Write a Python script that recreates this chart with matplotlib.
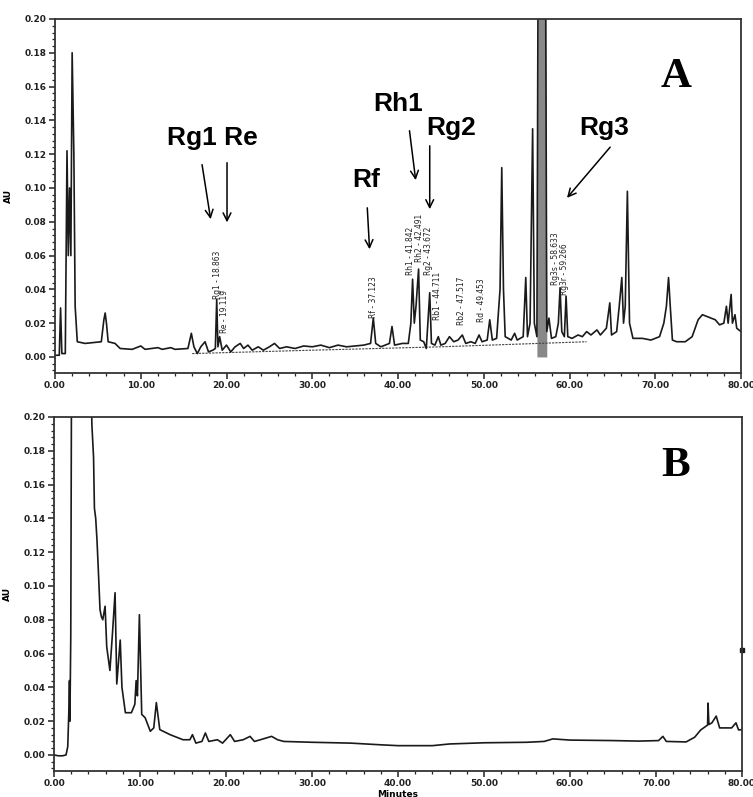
import matplotlib
matplotlib.use("Agg")
import matplotlib.pyplot as plt
from matplotlib.ticker import MultipleLocator, FormatStrFormatter

# ---- panel A: sample chromatogram (time in min, absorbance in AU)
a_time = [0.0, 0.5, 0.65, 0.8, 1.2, 1.4, 1.55, 1.7, 1.85, 2.0, 2.2, 2.35, 2.6, 3.5, 4.5,
          5.4, 5.7, 5.85, 6.0, 6.2, 7.0, 7.6, 9.0, 10.0, 10.5, 12.0, 12.5, 13.5, 14.0,
          15.5, 15.9, 16.2, 16.6, 17.0, 17.5, 17.9, 18.4, 18.7, 18.86, 19.0, 19.2, 19.5,
          20.0, 20.5, 21.0, 21.6, 22.0, 22.5, 23.0, 23.7, 24.3, 25.0, 25.6, 26.2, 27.0,
          28.0, 29.0, 30.0, 31.0, 32.0, 33.0, 34.0, 35.0, 36.0, 36.8, 37.12, 37.4, 38.0,
          39.0, 39.3, 39.6, 40.5, 41.2, 41.5, 41.7, 41.9, 42.1, 42.4, 42.6, 43.0, 43.3,
          43.7, 43.9, 44.3, 44.7, 45.0, 45.5, 46.0, 46.5, 47.0, 47.5, 47.9, 48.5, 49.0,
          49.45, 49.8, 50.4, 50.7, 51.0, 51.5, 51.9, 52.1, 52.3, 52.5, 53.2, 53.6, 53.9,
          54.6, 54.9, 55.1, 55.4, 55.7, 55.9, 56.2, 56.35, 57.2, 57.35, 57.6, 57.9, 58.4,
          58.7, 58.9, 59.1, 59.4, 59.6, 59.8, 60.3, 61.0, 61.5, 62.0, 62.5, 63.2, 63.6,
          64.3, 64.7, 64.9, 65.5, 65.8, 66.1, 66.3, 66.5, 66.75, 67.0, 67.4, 68.5, 69.5,
          70.5, 71.0, 71.3, 71.55, 71.75, 72.0, 72.5, 73.5, 74.3, 75.0, 75.5, 76.0, 76.5,
          77.0, 77.5, 78.0, 78.3, 78.5, 78.85, 79.0, 79.3, 79.5, 80.0]
a_au = [0.001, 0.001, 0.029, 0.002, 0.002, 0.122, 0.06, 0.10, 0.06, 0.18, 0.12, 0.03, 0.009,
        0.008, 0.0085, 0.009, 0.022, 0.026, 0.02, 0.009, 0.008, 0.005, 0.0045, 0.0065,
        0.0045, 0.0055, 0.0045, 0.0055, 0.0045, 0.005, 0.014, 0.006, 0.002, 0.006, 0.009,
        0.003, 0.004, 0.005, 0.034, 0.006, 0.012, 0.004, 0.007, 0.003, 0.006, 0.008, 0.005,
        0.007, 0.004, 0.006, 0.004, 0.006, 0.008, 0.005, 0.006, 0.005, 0.0065, 0.006,
        0.007, 0.0055, 0.007, 0.006, 0.0065, 0.007, 0.008, 0.023, 0.008, 0.006, 0.008,
        0.018, 0.007, 0.008, 0.008, 0.02, 0.046, 0.02, 0.03, 0.052, 0.01, 0.009, 0.005,
        0.038, 0.008, 0.007, 0.012, 0.007, 0.008, 0.012, 0.009, 0.010, 0.013, 0.008, 0.009,
        0.008, 0.013, 0.009, 0.010, 0.022, 0.010, 0.011, 0.04, 0.112, 0.04, 0.012, 0.010,
        0.014, 0.010, 0.012, 0.047, 0.012, 0.02, 0.135, 0.02, 0.012, 0.25, 0.25, 0.015,
        0.023, 0.011, 0.012, 0.02, 0.041, 0.015, 0.012, 0.036, 0.012, 0.011, 0.013, 0.012,
        0.015, 0.013, 0.016, 0.013, 0.017, 0.032, 0.013, 0.015, 0.03, 0.047, 0.02, 0.03,
        0.098, 0.02, 0.011, 0.011, 0.010, 0.012, 0.02, 0.03, 0.047, 0.03, 0.01, 0.009,
        0.009, 0.012, 0.022, 0.025, 0.024, 0.023, 0.022, 0.019, 0.02, 0.030, 0.02, 0.037,
        0.02, 0.025, 0.017, 0.015]

# integration baseline drawn under the trace
a_base_time = [16.0, 30.0, 45.0, 62.0]
a_base_au = [0.002, 0.004, 0.006, 0.009]

# retention-time labels on panel A
peak_names = ["Rg1", "Re", "Rf", "Rh1", "Rh2", "Rg2", "Rb1", "Rb2", "Rd", "Rg3s", "Rg3r"]
peak_rt = ["18.863", "19.119", "37.123", "41.842", "42.491", "43.672", "44.711",
           "47.517", "49.453", "58.633", "59.266"]
label_x = [18.9, 19.8, 37.1, 41.45, 42.5, 43.55, 44.66, 47.35, 49.7, 58.4, 59.4]
label_y = [0.034, 0.0142, 0.023, 0.0485, 0.056, 0.0485, 0.022, 0.019, 0.0207, 0.0426, 0.0367]

# ---- panel B: blank chromatogram
b_time = [0.0, 0.5, 1.0, 1.4, 1.6, 1.75, 1.8, 1.85, 1.95, 2.05, 4.3, 4.4, 4.6, 4.7, 4.85,
          5.0, 5.15, 5.35, 5.5, 5.67, 5.94, 6.13, 6.5, 6.8, 7.1, 7.3, 7.7, 7.9, 8.3, 9.0,
          9.4, 9.55, 9.7, 9.93, 10.2, 10.6, 11.2, 11.6, 11.9, 12.3, 13.5, 15.0, 15.8, 16.1,
          16.5, 17.2, 17.6, 18.0, 19.0, 19.6, 20.5, 21.0, 22.0, 22.8, 23.3, 24.0, 25.3,
          26.0, 26.7, 30.0, 34.5, 38.0, 40.0, 44.0, 46.0, 50.0, 55.0, 57.0, 58.0, 60.0,
          65.0, 68.0, 70.3, 70.8, 71.2, 73.5, 74.5, 75.2, 76.0, 76.05, 76.15, 76.5, 77.0,
          77.4, 78.8, 79.3, 79.6, 80.0]
b_au = [0.0, -0.0005, -0.0005, 0.0, 0.005, 0.03, 0.044, 0.02, 0.07, 0.25, 0.25, 0.196,
        0.176, 0.146, 0.14, 0.127, 0.11, 0.086, 0.082, 0.08, 0.088, 0.064, 0.05, 0.072,
        0.096, 0.042, 0.068, 0.040, 0.025, 0.025, 0.03, 0.044, 0.035, 0.083, 0.024, 0.022,
        0.014, 0.016, 0.031, 0.015, 0.012, 0.009, 0.009, 0.012, 0.007, 0.008, 0.013, 0.008,
        0.009, 0.007, 0.012, 0.008, 0.009, 0.011, 0.008, 0.009, 0.011, 0.009, 0.008,
        0.0075, 0.007, 0.006, 0.0055, 0.0055, 0.0065, 0.0072, 0.0075, 0.008, 0.0095,
        0.0088, 0.0085, 0.0082, 0.0085, 0.011, 0.008, 0.0077, 0.0105, 0.0148, 0.0177,
        0.0307, 0.018, 0.019, 0.023, 0.016, 0.016, 0.019, 0.0148, 0.015]
b_end_marker = (80.0, 0.062)

xticks = [0, 10, 20, 30, 40, 50, 60, 70, 80]
yticks = [0.00, 0.02, 0.04, 0.06, 0.08, 0.10, 0.12, 0.14, 0.16, 0.18, 0.20]

W, H = 753, 797
fig = plt.figure(figsize=(W / 100, H / 100), dpi=100)


def px_axes(left, top, right, bottom):
    return fig.add_axes([left / W, 1 - bottom / H, (right - left) / W, (bottom - top) / H])


def style(ax):
    ax.set_xlim(0, 80)
    ax.set_ylim(-0.0095, 0.20)
    ax.set_xticks(xticks)
    ax.set_yticks(yticks)
    ax.xaxis.set_minor_locator(MultipleLocator(2))
    ax.yaxis.set_minor_locator(MultipleLocator(0.004))
    ax.xaxis.set_major_formatter(FormatStrFormatter("%.2f"))
    ax.yaxis.set_major_formatter(FormatStrFormatter("%.2f"))
    ax.tick_params(which="major", direction="out", length=4, width=1.1, labelsize=6.5,
                   pad=2, colors="#222222")
    ax.tick_params(which="minor", direction="out", length=2, width=0.9, colors="#222222")
    for lab in ax.get_xticklabels() + ax.get_yticklabels():
        lab.set_fontweight("bold")
    for sp in ax.spines.values():
        sp.set_linewidth(1.3)
        sp.set_color("#333333")
    ax.set_ylabel("AU", fontsize=6.5, fontweight="bold", labelpad=8)


line_kw = dict(color="#1a1a1a", lw=1.2)

# ---- panel A
axA = px_axes(55, 19, 741, 373)
style(axA)
axA.plot(a_base_time, a_base_au, color="#444444", lw=0.8, ls=(0, (2, 1)))
axA.fill_between(a_time, 0.0, a_au, where=[56.2 <= t <= 57.35 for t in a_time],
                 color="#888888", lw=0)
axA.plot(a_time, a_au, **line_kw)

for name, rt, x, y in zip(peak_names, peak_rt, label_x, label_y):
    axA.text(x, y, f"{name} - {rt}", rotation=90, ha="center", va="bottom",
             fontsize=6, fontstretch="condensed", color="#222222")

ann_font = dict(fontsize=19, fontweight="bold", family="Liberation Sans", ha="center",
                va="center")
arrow = dict(arrowstyle="->", lw=1.1, color="black", mutation_scale=14)
axA.text(18.4, 0.1296, "Rg1 Re", **ann_font)
axA.annotate("", xy=(18.2, 0.0799), xytext=(17.1, 0.1154), arrowprops=arrow)
axA.annotate("", xy=(20.06, 0.078), xytext=(20.06, 0.1166), arrowprops=arrow)
axA.text(36.3, 0.1047, "Rf", **ann_font)
axA.annotate("", xy=(36.7, 0.0621), xytext=(36.4, 0.0899), arrowprops=arrow)
axA.text(40.0, 0.1497, "Rh1", **ann_font)
axA.annotate("", xy=(42.1, 0.103), xytext=(41.3, 0.1355), arrowprops=arrow)
axA.text(46.2, 0.1355, "Rg2", **ann_font)
axA.annotate("", xy=(43.7, 0.0858), xytext=(43.7, 0.1266), arrowprops=arrow)
axA.text(64.1, 0.1355, "Rg3", **ann_font)
axA.annotate("", xy=(59.5, 0.0929), xytext=(64.95, 0.1254), arrowprops=arrow)

axA.text(0.905, 0.835, "A", transform=axA.transAxes, fontsize=31, fontweight="bold",
         family="Liberation Serif", ha="center", va="center")

# ---- panel B
axB = px_axes(54, 417, 742, 771)
style(axB)
axB.plot(b_time, b_au, **line_kw)
axB.plot([b_end_marker[0]], [b_end_marker[1]], marker="s", ms=2.5, color="#1a1a1a",
         clip_on=False)
axB.set_xlabel("Minutes", fontsize=6.5, fontweight="bold", labelpad=1)
axB.text(0.904, 0.862, "B", transform=axB.transAxes, fontsize=31, fontweight="bold",
         family="Liberation Serif", ha="center", va="center")

fig.savefig("out.png", dpi=100)
